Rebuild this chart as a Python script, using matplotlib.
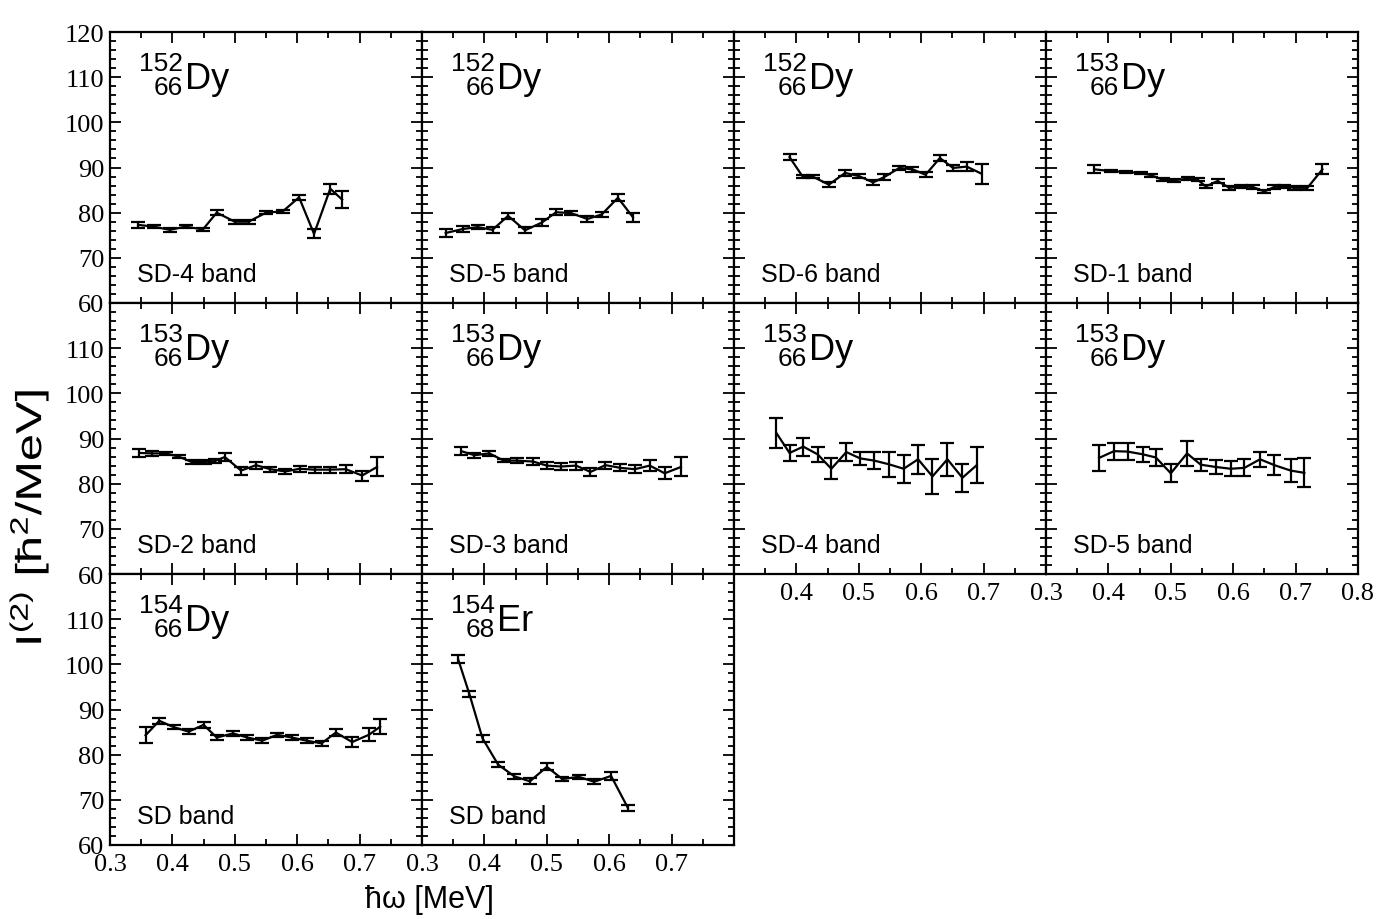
import numpy as np
import matplotlib.pyplot as plt
from matplotlib.ticker import MultipleLocator
from matplotlib.textpath import TextPath
from matplotlib.patches import PathPatch
from matplotlib.font_manager import FontProperties
from matplotlib.transforms import Affine2D, IdentityTransform

plt.rcParams['mathtext.fontset'] = 'custom'
plt.rcParams['mathtext.rm'] = 'Liberation Sans'
plt.rcParams['mathtext.it'] = 'Liberation Sans:italic'

# --- data: hbar*omega [MeV], I(2) [hbar^2/MeV], error ---
# 152Dy SD-4
x_152_sd4 = [0.345, 0.370, 0.396, 0.421, 0.449, 0.471, 0.500, 0.522, 0.550, 0.577, 0.603, 0.627, 0.653, 0.672]
y_152_sd4 = [77.3, 76.9, 76.2, 76.9, 76.3, 80.0, 78.0, 78.0, 80.0, 80.3, 83.4, 75.3, 85.3, 82.9]
e_152_sd4 = [0.6, 0.4, 0.4, 0.4, 0.4, 0.5, 0.4, 0.4, 0.4, 0.4, 0.6, 1.0, 1.1, 1.9]
# 152Dy SD-5
x_152_sd5 = [0.338, 0.366, 0.389, 0.413, 0.438, 0.465, 0.492, 0.515, 0.539, 0.565, 0.588, 0.614, 0.638]
y_152_sd5 = [75.5, 76.4, 76.8, 76.2, 79.3, 76.1, 77.8, 80.1, 79.9, 78.6, 79.6, 83.3, 79.0]
e_152_sd5 = [0.9, 0.6, 0.5, 0.6, 0.7, 0.7, 0.8, 0.7, 0.4, 0.7, 0.6, 0.8, 1.0]
# 152Dy SD-6
x_152_sd6 = [0.389, 0.410, 0.426, 0.452, 0.478, 0.500, 0.523, 0.541, 0.565, 0.586, 0.607, 0.630, 0.651, 0.673, 0.697]
y_152_sd6 = [92.3, 88.0, 88.0, 86.2, 88.8, 88.1, 86.7, 87.9, 89.9, 89.6, 88.4, 92.1, 89.9, 90.2, 88.6]
e_152_sd6 = [0.6, 0.4, 0.4, 0.6, 0.6, 0.4, 0.6, 0.6, 0.5, 0.5, 0.6, 0.6, 0.6, 1.0, 2.2]
# 153Dy SD-1
x_153_sd1 = [0.377, 0.404, 0.428, 0.452, 0.468, 0.487, 0.505, 0.527, 0.543, 0.556, 0.575, 0.594, 0.612, 0.631, 0.650, 0.666, 0.682, 0.698, 0.719, 0.743]
y_153_sd1 = [89.6, 89.2, 89.0, 88.8, 88.3, 87.3, 87.2, 87.5, 87.3, 85.8, 87.0, 85.5, 85.8, 85.7, 84.7, 85.7, 85.8, 85.5, 85.5, 89.6]
e_153_sd1 = [0.9, 0.3, 0.3, 0.3, 0.3, 0.3, 0.3, 0.3, 0.3, 0.4, 0.4, 0.4, 0.4, 0.4, 0.4, 0.4, 0.4, 0.4, 0.5, 1.1]
# 153Dy SD-2
x_153_sd2 = [0.347, 0.368, 0.389, 0.410, 0.431, 0.452, 0.468, 0.484, 0.510, 0.534, 0.557, 0.581, 0.604, 0.628, 0.652, 0.678, 0.704, 0.728]
y_153_sd2 = [86.8, 86.7, 86.7, 86.0, 84.8, 84.8, 85.0, 85.9, 82.9, 84.1, 83.2, 82.7, 83.3, 83.1, 83.1, 83.2, 81.8, 83.7]
e_153_sd2 = [0.9, 0.5, 0.4, 0.4, 0.4, 0.4, 0.4, 0.9, 0.9, 0.8, 0.6, 0.6, 0.7, 0.7, 0.7, 0.9, 1.1, 2.1]
# 153Dy SD-3
x_153_sd3 = [0.363, 0.384, 0.408, 0.431, 0.452, 0.478, 0.500, 0.523, 0.547, 0.570, 0.594, 0.618, 0.641, 0.665, 0.689, 0.715]
y_153_sd3 = [87.2, 86.3, 86.7, 85.1, 85.1, 84.9, 84.0, 83.8, 84.0, 82.6, 84.1, 83.5, 83.2, 84.0, 82.3, 83.7]
e_153_sd3 = [0.9, 0.6, 0.6, 0.4, 0.5, 0.7, 0.8, 0.7, 0.9, 0.8, 0.8, 0.8, 0.9, 1.2, 1.3, 2.1]
# 153Dy SD-4
x_153_sd4 = [0.368, 0.389, 0.411, 0.434, 0.456, 0.480, 0.502, 0.525, 0.548, 0.572, 0.595, 0.618, 0.642, 0.666, 0.689]
y_153_sd4 = [91.2, 86.8, 88.2, 86.5, 83.3, 87.0, 85.6, 85.1, 84.3, 83.3, 85.4, 81.6, 85.4, 81.3, 84.1]
e_153_sd4 = [3.3, 1.8, 2.0, 1.7, 2.3, 2.0, 1.5, 1.9, 2.8, 3.1, 3.2, 3.8, 3.6, 3.1, 4.0]
# 153Dy SD-5
x_153_sd5 = [0.385, 0.409, 0.431, 0.455, 0.476, 0.500, 0.526, 0.548, 0.572, 0.596, 0.618, 0.643, 0.666, 0.692, 0.714]
y_153_sd5 = [85.7, 87.2, 87.1, 86.5, 85.8, 82.3, 86.7, 84.2, 83.7, 83.3, 83.5, 85.4, 84.1, 82.9, 82.4]
e_153_sd5 = [2.9, 1.9, 1.9, 1.7, 1.9, 2.0, 2.8, 1.3, 1.5, 1.7, 1.9, 1.7, 2.2, 2.6, 3.2]
# 154Dy SD
x_154_dy = [0.357, 0.379, 0.402, 0.426, 0.450, 0.471, 0.497, 0.520, 0.544, 0.568, 0.591, 0.615, 0.639, 0.662, 0.688, 0.715, 0.733]
y_154_dy = [84.3, 87.5, 86.1, 85.1, 86.6, 83.8, 84.7, 83.8, 83.1, 84.4, 83.8, 83.1, 82.5, 84.9, 82.8, 84.4, 86.2]
e_154_dy = [1.8, 0.7, 0.5, 0.5, 0.6, 0.5, 0.5, 0.5, 0.5, 0.5, 0.5, 0.5, 0.5, 0.8, 1.1, 1.4, 1.7]
# 154Er SD
x_154_er = [0.358, 0.376, 0.397, 0.422, 0.448, 0.473, 0.500, 0.525, 0.551, 0.576, 0.603, 0.630]
y_154_er = [101.1, 93.4, 83.6, 77.8, 75.2, 74.1, 77.3, 74.6, 75.1, 74.0, 75.3, 68.2]
e_154_er = [0.9, 0.7, 0.7, 0.6, 0.5, 0.7, 0.8, 0.5, 0.5, 0.6, 0.8, 0.7]

mass = ['152', '152', '152', '153', '153', '153', '153', '153', '154', '154']
charge = ['66', '66', '66', '66', '66', '66', '66', '66', '66', '68']
element = ['Dy', 'Dy', 'Dy', 'Dy', 'Dy', 'Dy', 'Dy', 'Dy', 'Dy', 'Er']
bands = ['SD-4 band', 'SD-5 band', 'SD-6 band', 'SD-1 band', 'SD-2 band',
         'SD-3 band', 'SD-4 band', 'SD-5 band', 'SD band', 'SD band']
series = [(x_152_sd4, y_152_sd4, e_152_sd4), (x_152_sd5, y_152_sd5, e_152_sd5),
          (x_152_sd6, y_152_sd6, e_152_sd6), (x_153_sd1, y_153_sd1, e_153_sd1),
          (x_153_sd2, y_153_sd2, e_153_sd2), (x_153_sd3, y_153_sd3, e_153_sd3),
          (x_153_sd4, y_153_sd4, e_153_sd4), (x_153_sd5, y_153_sd5, e_153_sd5),
          (x_154_dy, y_154_dy, e_154_dy), (x_154_er, y_154_er, e_154_er)]
cells = [(0, 0), (0, 1), (0, 2), (0, 3), (1, 0), (1, 1), (1, 2), (1, 3), (2, 0), (2, 1)]

xt = [0.3, 0.4, 0.5, 0.6, 0.7, 0.8]
yt = [60, 70, 80, 90, 100, 110, 120]

W, H = 1377, 920
PW, PH = 312, 271
fig = plt.figure(figsize=(W / 100, H / 100), dpi=100)

for (r, c), (x, y, e), m, z, el, band in zip(cells, series, mass, charge, element, bands):
    left = 110 + PW * c
    top = 33 + PH * r
    ax = fig.add_axes([left / W, 1 - (top + PH) / H, PW / W, PH / H])
    ax.errorbar(x, y, yerr=e, color='k', lw=1.6, elinewidth=1.6,
                capsize=5, capthick=1.6)
    ax.set_xlim(0.3, 0.8)
    ax.set_ylim(60, 120)
    ax.xaxis.set_minor_locator(MultipleLocator(0.05))
    ax.yaxis.set_minor_locator(MultipleLocator(2))
    ax.tick_params(which='both', direction='in', top=True, right=True, width=1.3)
    ax.tick_params(which='major', length=8)
    ax.tick_params(which='minor', length=4)
    for s in ax.spines.values():
        s.set_linewidth(1.6)

    # x tick labels
    if r == 2:
        xl = ['0.3', '0.4', '0.5', '0.6', '0.7', '']
    elif r == 1 and c == 2:
        xl = ['', '0.4', '0.5', '0.6', '0.7', '']
    elif r == 1 and c == 3:
        xl = ['0.3', '0.4', '0.5', '0.6', '0.7', '0.8']
    else:
        xl = [''] * 6
    ax.set_xticks(xt, labels=xl)
    # y tick labels
    if c == 0:
        yl = [str(v) for v in yt]
        if r > 0:
            yl[-1] = ''
    else:
        yl = [''] * 7
    ax.set_yticks(yt, labels=yl)
    for lab in ax.get_xticklabels() + ax.get_yticklabels():
        lab.set_fontfamily('Liberation Serif')
        lab.set_fontsize(19)
    ax.tick_params(axis='x', pad=6)
    ax.tick_params(axis='y', pad=4)

    # nucleus label
    ax.text(0.235, 0.93, m, transform=ax.transAxes, ha='right', va='top',
            family='Liberation Sans', fontsize=19)
    ax.text(0.235, 0.77, z, transform=ax.transAxes, ha='right', va='baseline',
            family='Liberation Sans', fontsize=19)
    ax.text(0.24, 0.795, el, transform=ax.transAxes, ha='left', va='baseline',
            family='Liberation Sans', fontsize=26)
    ax.text(0.088, 0.08, band, transform=ax.transAxes, ha='left', va='baseline',
            family='Liberation Sans', fontsize=18)

# y label: the original lettering is wider than the font, so stretch it a bit
tp = TextPath((0, 0), 'I$^{(2)}$ [ħ$^{2}$/MeV]', size=26 * 100 / 72,
              prop=FontProperties(family='Liberation Sans'))
bb = tp.get_extents()
tr = (Affine2D().translate(-bb.x0 - bb.width / 2, -bb.y0 - bb.height / 2)
      .scale(1.35, 1.0).rotate_deg(90).translate(29, H - 518))
fig.add_artist(PathPatch(tr.transform_path(tp), transform=IdentityTransform(),
                         facecolor='k', edgecolor='none'))

fig.text(0.312, 0.022, 'ħω [MeV]', ha='center', va='center',
         family='Liberation Sans', fontsize=22)

fig.savefig('out.png', dpi=100)
